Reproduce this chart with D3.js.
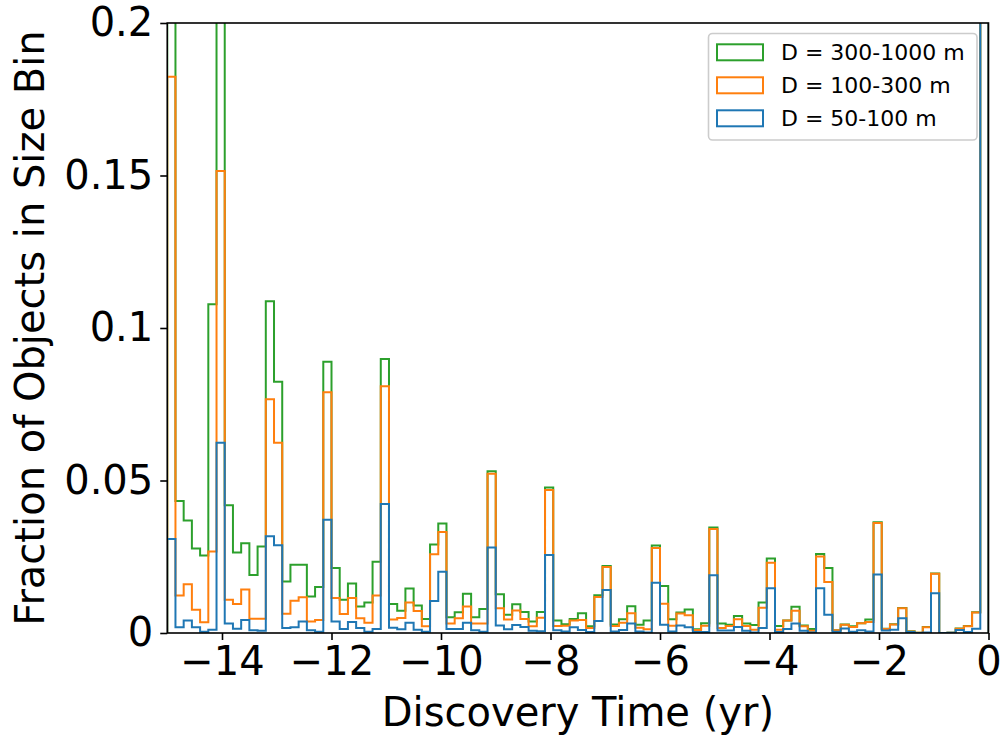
<!DOCTYPE html>
<html>
<head>
<meta charset="utf-8">
<script src="https://cdn.jsdelivr.net/npm/d3@7"></script>
<style>
  body { margin: 0; background: #fff; }
  svg text { font-family: "DejaVu Sans", sans-serif; fill: #000; }
</style>
</head>
<body>
<div id="vis"></div>
<script>
// histogram bins: 100 bins of 0.15 yr from -15 to 0
const binStart = -15
const binWidth = 0.15

// series labels and colours (matplotlib tab10)
const seriesNames = ['D = 300-1000 m', 'D = 100-300 m', 'D = 50-100 m']
const seriesColors = ['#2ca02c', '#ff7f0e', '#1f77b4']

// fraction of objects per bin (values above 0.2 are clipped)
const large = [
  0.26, 0.0433, 0.0369, 0.0277, 0.0254, 0.1078, 0.26, 0.0419, 0.0264, 0.0294,
  0.019, 0.0284, 0.1088, 0.0824, 0.0169, 0.0224, 0.0224, 0.012, 0.0151, 0.0889,
  0.0213, 0.0109, 0.0162, 0.0087, 0.010, 0.0234, 0.0898, 0.0095, 0.0073, 0.0146,
  0.009, 0.0046, 0.029, 0.0359, 0.0052, 0.0068, 0.0129, 0.0052, 0.0079, 0.053,
  0.0127, 0.006, 0.0094, 0.0069, 0.0038, 0.0069, 0.0477, 0.0041, 0.0029, 0.0046,
  0.0065, 0.0022, 0.0124, 0.022, 0.0028, 0.0045, 0.0088, 0.0027, 0.0041, 0.0287,
  0.0154, 0.0045, 0.0067, 0.0077, 0.0012, 0.0032, 0.0346, 0.0031, 0.0027, 0.0056,
  0.0031, 0.0026, 0.010, 0.0244, 0.0023, 0.0041, 0.0086, 0.0025, 0.0013, 0.0259,
  0.0213, 0.0009, 0.0028, 0.0022, 0.0032, 0.0044, 0.0363, 0.0014, 0.0029, 0.0082,
  0.0006, 0.0001, 0.002, 0.0195, 0, 0.0001, 0.0015, 0.0023, 0.0068, 0.26
]
const medium = [
  0.1824, 0.0123, 0.016, 0.0076, 0.0035, 0.0267, 0.1515, 0.0109, 0.0095, 0.0143,
  0.0047, 0.0047, 0.0766, 0.0624, 0.0063, 0.0106, 0.0117, 0.0038, 0.0043, 0.0789,
  0.0115, 0.0062, 0.0115, 0.0048, 0.0034, 0.0123, 0.0809, 0.0044, 0.0049, 0.010,
  0.0072, 0.0022, 0.0258, 0.0331, 0.0031, 0.0048, 0.0087, 0.0031, 0.0031, 0.0522,
  0.0081, 0.0044, 0.0074, 0.0046, 0.0022, 0.005, 0.0469, 0.0023, 0.0024, 0.0041,
  0.0043, 0.0016, 0.0118, 0.0216, 0.0023, 0.0034, 0.0065, 0.0017, 0.0012, 0.0279,
  0.0096, 0.0024, 0.0064, 0.0058, 0.001, 0.0024, 0.0341, 0.0016, 0.0023, 0.0045,
  0.0023, 0.0011, 0.0083, 0.023, 0.0011, 0.0041, 0.0073, 0.0022, 0.0007, 0.0251,
  0.0167, 0.0009, 0.0027, 0.002, 0.0032, 0.0036, 0.0361, 0.0013, 0.0028, 0.0081,
  0.0005, 0.0001, 0.0019, 0.0194, 0, 0.0001, 0.0014, 0.0022, 0.0067, 0.25
]
const small = [
  0.0308, 0.0019, 0.0041, 0.0019, 0.0004, 0.0011, 0.0624, 0.0031, 0.0014, 0.0043,
  0.0009, 0.0007, 0.0317, 0.0288, 0.0016, 0.0019, 0.0038, 0.0009, 0.0004, 0.0371,
  0.0038, 0.0013, 0.0036, 0.0016, 0.0004, 0.0013, 0.0423, 0.0017, 0.0012, 0.0034,
  0.0011, 0.0004, 0.0105, 0.0201, 0.0013, 0.0013, 0.0034, 0.0009, 0.0004, 0.028,
  0.0025, 0.0012, 0.0026, 0.002, 0.0007, 0.0006, 0.0256, 0.0009, 0.0005, 0.0019,
  0.001, 0.0003, 0.0039, 0.0141, 0.0005, 0.001, 0.0031, 0.0005, 0.0002, 0.0165,
  0.0027, 0.0005, 0.0025, 0.0019, 0.0003, 0.0003, 0.0189, 0.0008, 0.0008, 0.002,
  0.0007, 0.0002, 0.0016, 0.0147, 0.0003, 0.0013, 0.0031, 0.0007, 0.0002, 0.0147,
  0.006, 0.0004, 0.0015, 0.0004, 0.0009, 0.0005, 0.0192, 0.0008, 0.0011, 0.0048,
  0.0003, 0, 0.0002, 0.013, 0, 0.0001, 0.001, 0.0003, 0.0014, 0.24
]

const xTicks = [-14, -12, -10, -8, -6, -4, -2, 0]
const yTicks = [0, 0.05, 0.1, 0.15, 0.2]
const yTickLabels = ['0', '0.05', '0.1', '0.15', '0.2']

const width = 1003
const height = 736
const margin = { left: 167.25, right: 14.5, top: 23, bottom: 103 }

const svg = d3.select('#vis')
  .append('svg')
  .attr('width', width)
  .attr('height', height)

const x = d3.scaleLinear()
  .domain([-15, 0])
  .range([margin.left, width - margin.right])

const y = d3.scaleLinear()
  .domain([0, 0.2])
  .range([height - margin.bottom, margin.top])

// clip the bars to the axes box
svg.append('defs').append('clipPath')
  .attr('id', 'plot-clip')
  .append('rect')
  .attr('x', x(-15))
  .attr('y', y(0.2))
  .attr('width', x(0) - x(-15))
  .attr('height', y(0) - y(0.2))

// step outline of one histogram
function stepPoints(values) {
  const pts = [[binStart, 0]]
  values.forEach((v, i) => {
    const x0 = binStart + i * binWidth
    pts.push([x0, v], [x0 + binWidth, v])
  })
  pts.push([binStart + values.length * binWidth, 0])
  return pts
}

const line = d3.line()
  .x(d => x(d[0]))
  .y(d => y(d[1]))

const histGroup = svg.append('g')
  .attr('clip-path', 'url(#plot-clip)')

const seriesValues = [large, medium, small]
seriesValues.forEach((vals, k) => {
  histGroup.append('path')
    .attr('d', line(stepPoints(vals)))
    .attr('fill', 'none')
    .attr('stroke', seriesColors[k])
    .attr('stroke-width', 2)
    .attr('stroke-linejoin', 'miter')
})

// frame
svg.append('rect')
  .attr('x', x(-15))
  .attr('y', y(0.2))
  .attr('width', x(0) - x(-15))
  .attr('height', y(0) - y(0.2))
  .attr('fill', 'none')
  .attr('stroke', '#000')
  .attr('stroke-width', 1.6)

// x axis
const xAxis = svg.append('g')
  .attr('transform', `translate(0,${y(0)})`)
  .call(d3.axisBottom(x).tickValues(xTicks).tickSize(7).tickPadding(7)
    .tickFormat(d => d3.format('d')(d).replace('-', '\u2212')))
xAxis.select('.domain').remove()
xAxis.selectAll('.tick line').attr('stroke-width', 1.6)
xAxis.selectAll('.tick text')
  .attr('font-size', 40)
  .attr('font-family', 'DejaVu Sans')

// y axis
const yAxis = svg.append('g')
  .attr('transform', `translate(${x(-15)},0)`)
  .call(d3.axisLeft(y).tickValues(yTicks).tickSize(7).tickPadding(7)
    .tickFormat((d, i) => yTickLabels[i]))
yAxis.select('.domain').remove()
yAxis.selectAll('.tick line').attr('stroke-width', 1.6)
yAxis.selectAll('.tick text')
  .attr('font-size', 40)
  .attr('font-family', 'DejaVu Sans')

// axis titles
svg.append('text')
  .attr('x', (x(-15) + x(0)) / 2)
  .attr('y', 726)
  .attr('text-anchor', 'middle')
  .attr('font-size', 40)
  .text('Discovery Time (yr)')

svg.append('text')
  .attr('transform', `translate(44,${(y(0) + y(0.2)) / 2}) rotate(-90)`)
  .attr('text-anchor', 'middle')
  .attr('font-size', 40)
  .text('Fraction of Objects in Size Bin')

// legend
const legend = svg.append('g').attr('class', 'legend')
legend.append('rect')
  .attr('x', 708.5)
  .attr('y', 33.5)
  .attr('width', 268.5)
  .attr('height', 106.5)
  .attr('rx', 4)
  .attr('fill', 'rgba(255,255,255,0.8)')
  .attr('stroke', '#cccccc')
  .attr('stroke-width', 1.6)

seriesNames.forEach((name, k) => {
  const cy = 52.3 + k * 33
  legend.append('rect')
    .attr('x', 717)
    .attr('y', cy - 8)
    .attr('width', 46)
    .attr('height', 16)
    .attr('fill', 'none')
    .attr('stroke', seriesColors[k])
    .attr('stroke-width', 2)
  legend.append('text')
    .attr('x', 781)
    .attr('y', cy + 8)
    .attr('font-size', 22)
    .text(name)
})
</script>
</body>
</html>
